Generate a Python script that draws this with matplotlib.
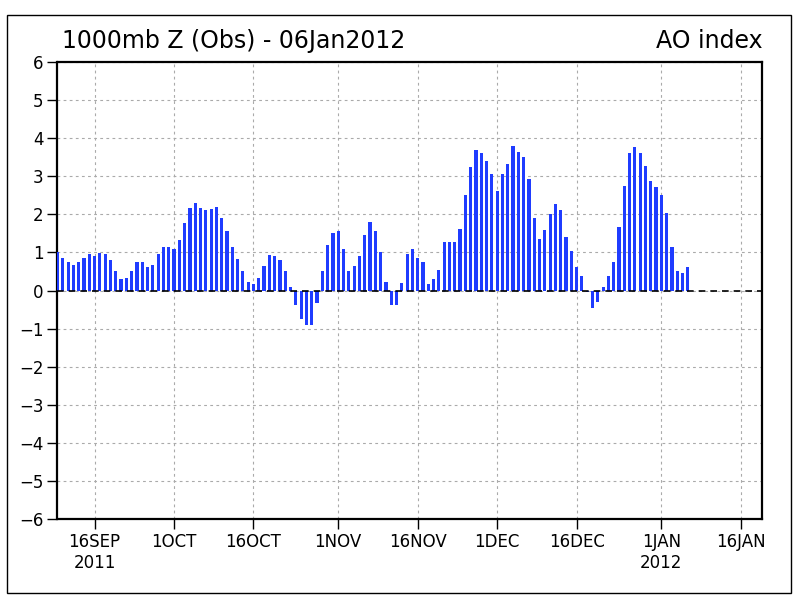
import datetime as dt
import matplotlib
matplotlib.use("Agg")
import matplotlib.pyplot as plt
import matplotlib.dates as mdates
from matplotlib.patches import Rectangle

# daily AO index, 9 Sep 2011 .. 6 Jan 2012
start_day = dt.date(2011, 9, 9)
ao_index = [
    1.02, 0.86, 0.76, 0.68, 0.76, 0.86, 0.97, 0.91, 0.99, 0.97,
    0.81, 0.52, 0.31, 0.34, 0.52, 0.76, 0.76, 0.63, 0.68, 0.97,
    1.15, 1.15, 1.10, 1.33, 1.77, 2.17, 2.30, 2.17, 2.11, 2.14,
    2.19, 1.90, 1.57, 1.15, 0.83, 0.52, 0.23, 0.16, 0.34, 0.65,
    0.94, 0.91, 0.81, 0.50, 0.08, -0.37, -0.76, -0.91, -0.91, -0.34,
    0.50, 1.20, 1.51, 1.57, 1.10, 0.50, 0.65, 0.91, 1.46, 1.80,
    1.57, 1.02, 0.23, -0.39, -0.37, 0.21, 0.97, 1.10, 0.86, 0.76,
    0.18, 0.29, 0.55, 1.28, 1.28, 1.28, 1.62, 2.51, 3.25, 3.69,
    3.62, 3.41, 3.07, 2.62, 3.07, 3.33, 3.80, 3.64, 3.51, 2.93,
    1.91, 1.36, 1.60, 2.02, 2.28, 2.12, 1.41, 1.05, 0.63, 0.37,
    -0.04, -0.45, -0.29, 0.10, 0.39, 0.76, 1.68, 2.75, 3.62, 3.77,
    3.62, 3.28, 2.88, 2.72, 2.52, 2.04, 1.13, 0.50, 0.45, 0.63,
]
days = [start_day + dt.timedelta(days=i) for i in range(len(ao_index))]
end_day = dt.date(2012, 1, 20)

tick_days = [dt.date(2011, 9, 16), dt.date(2011, 10, 1), dt.date(2011, 10, 16),
             dt.date(2011, 11, 1), dt.date(2011, 11, 16), dt.date(2011, 12, 1),
             dt.date(2011, 12, 16), dt.date(2012, 1, 1), dt.date(2012, 1, 16)]
tick_labels = ["16SEP\n2011", "1OCT", "16OCT", "1NOV", "16NOV", "1DEC",
               "16DEC", "1JAN\n2012", "16JAN"]
y_ticks = list(range(-6, 7))

title_left = "1000mb Z (Obs) - 06Jan2012"
title_right = "AO index"

plt.rcParams["font.family"] = ["DejaVu Sans"]

W, H = 800, 600
fig = plt.figure(figsize=(8, 6), dpi=100, facecolor="white")
ax = fig.add_axes([57.5 / W, 1 - 519 / H, (762 - 57.5) / W, (519 - 62) / H])

ax.bar(days, ao_index, width=0.6, color="#1f3cff", zorder=3)

ax.set_xlim(mdates.date2num(start_day), mdates.date2num(end_day))
ax.set_ylim(-6, 6)
ax.set_yticks(y_ticks)
ax.set_yticklabels([str(v).replace("-", "\u2212") for v in y_ticks])
ax.set_xticks(tick_days)
ax.set_xticklabels(tick_labels, linespacing=1.25)

ax.grid(True, color="#aaaaaa", linestyle=(0, (2.5, 3)), linewidth=0.8, zorder=0)
ax.axhline(0, color="black", linestyle=(0, (4, 3)), linewidth=1.2, zorder=4)

for s in ax.spines.values():
    s.set_linewidth(1.6)
ax.tick_params(axis="both", direction="out", length=7, width=1, labelsize=12, pad=3)

fig.text(62 / W, 1 - 48 / H, title_left, fontsize=17, va="baseline", ha="left")
fig.text(763 / W, 1 - 48 / H, title_right, fontsize=17, va="baseline", ha="right")

fig.patches.append(Rectangle((7 / W, 1 - 593 / H), (791 - 7) / W, (593 - 15) / H,
                             transform=fig.transFigure, fill=False,
                             edgecolor="black", linewidth=1))

fig.savefig("out.png", dpi=100)
